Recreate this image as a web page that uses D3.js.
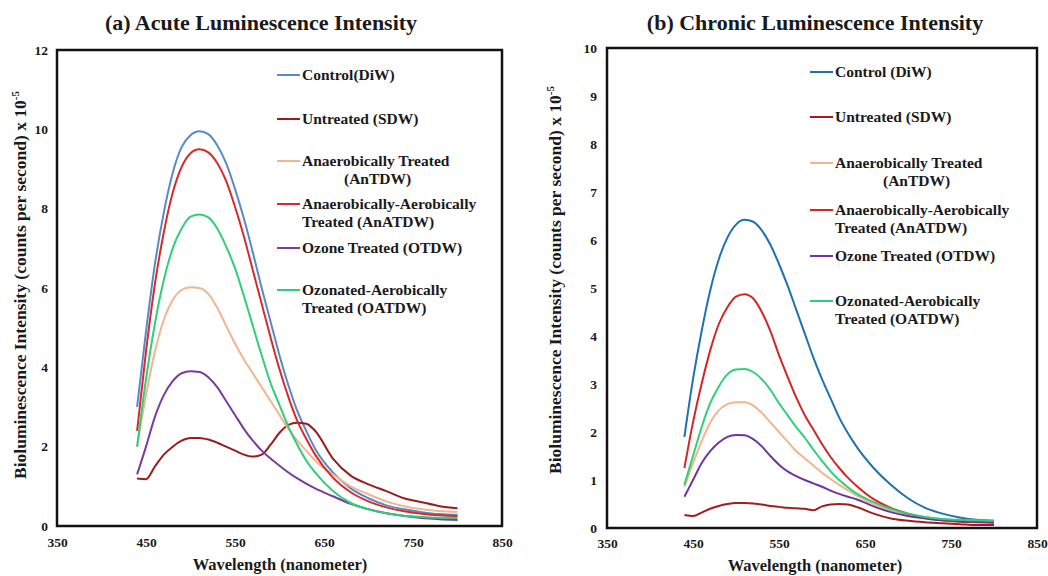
<!DOCTYPE html>
<html>
<head>
<meta charset="utf-8">
<script src="https://cdn.jsdelivr.net/npm/d3@7"></script>
<style>
  body { margin: 0; background: #fff; }
  text { font-family: "Liberation Serif", "DejaVu Serif", serif; font-weight: bold; fill: #1a1a1a; }
</style>
</head>
<body>
<div id="chart"></div>
<script>
// wavelength grid (nm) shared by every curve
const wavelengths = [440,450,460,470,480,490,500,510,520,530,540,550,560,570,580,590,600,610,620,630,640,660,680,700,720,740,760,780,800];

// (a) acute, x 10^-5 counts per second
const acuteDiW    = [3.0,4.9,6.6,7.9,8.9,9.55,9.85,9.95,9.88,9.6,9.15,8.5,7.75,6.9,6.0,5.15,4.3,3.55,2.9,2.4,1.95,1.35,0.95,0.7,0.52,0.42,0.35,0.3,0.28];
const acuteSDW    = [1.2,1.18,1.5,1.8,2.0,2.15,2.22,2.22,2.18,2.1,2.0,1.9,1.8,1.75,1.8,2.05,2.35,2.55,2.6,2.58,2.4,1.7,1.27,1.05,0.88,0.7,0.6,0.5,0.45];
const acuteAnTDW  = [2.0,3.3,4.4,5.2,5.7,5.95,6.02,6.0,5.85,5.5,5.05,4.6,4.2,3.85,3.5,3.15,2.8,2.45,2.15,1.9,1.65,1.3,1.0,0.8,0.62,0.5,0.42,0.38,0.35];
const acuteAnATDW = [2.4,4.4,6.1,7.4,8.4,9.05,9.4,9.5,9.42,9.15,8.7,8.05,7.3,6.45,5.6,4.75,3.95,3.25,2.65,2.2,1.8,1.22,0.85,0.62,0.47,0.37,0.31,0.27,0.25];
const acuteOTDW   = [1.3,2.0,2.75,3.3,3.65,3.85,3.9,3.88,3.75,3.5,3.15,2.8,2.45,2.15,1.9,1.7,1.52,1.35,1.2,1.07,0.95,0.75,0.56,0.42,0.32,0.25,0.2,0.17,0.15];
const acuteOATDW  = [2.0,3.7,5.1,6.2,7.0,7.5,7.8,7.85,7.78,7.5,7.05,6.5,5.8,5.05,4.3,3.6,3.05,2.5,2.05,1.65,1.35,0.88,0.58,0.42,0.32,0.26,0.23,0.21,0.2];

// (b) chronic
const chronicDiW    = [1.9,3.1,4.1,4.95,5.6,6.05,6.32,6.42,6.38,6.2,5.9,5.5,5.05,4.55,4.05,3.55,3.1,2.7,2.3,1.98,1.7,1.25,0.9,0.62,0.42,0.3,0.22,0.17,0.15];
const chronicSDW    = [0.27,0.25,0.32,0.4,0.46,0.5,0.52,0.52,0.51,0.49,0.46,0.44,0.42,0.41,0.4,0.37,0.45,0.49,0.5,0.49,0.44,0.3,0.2,0.15,0.12,0.1,0.08,0.06,0.06];
const chronicAnTDW  = [0.85,1.35,1.8,2.2,2.45,2.58,2.62,2.62,2.55,2.4,2.2,2.0,1.8,1.6,1.45,1.3,1.15,1.02,0.9,0.79,0.68,0.5,0.37,0.28,0.22,0.18,0.16,0.15,0.14];
const chronicAnATDW = [1.25,2.2,3.0,3.7,4.25,4.6,4.82,4.87,4.78,4.5,4.1,3.6,3.15,2.72,2.35,2.05,1.75,1.48,1.25,1.05,0.88,0.6,0.42,0.3,0.22,0.16,0.13,0.12,0.11];
const chronicOTDW   = [0.65,1.0,1.35,1.6,1.78,1.9,1.94,1.93,1.85,1.7,1.5,1.32,1.18,1.08,1.0,0.93,0.86,0.78,0.71,0.65,0.6,0.45,0.33,0.25,0.2,0.16,0.14,0.13,0.12];
const chronicOATDW  = [0.9,1.5,2.1,2.6,2.95,3.2,3.3,3.31,3.25,3.1,2.88,2.6,2.35,2.1,1.88,1.63,1.4,1.18,1.0,0.85,0.72,0.54,0.4,0.3,0.23,0.19,0.17,0.16,0.15];

const xTicks = [350,450,550,650,750,850];
const acuteYTicks = [0,2,4,6,8,10,12];
const chronicYTicks = [0,1,2,3,4,5,6,7,8,9,10];

// legend entries: each is one or two text lines
const acuteLegend = [
  ["Control(DiW)"],
  ["Untreated (SDW)"],
  ["Anaerobically Treated", "(AnTDW)"],
  ["Anaerobically-Aerobically", "Treated  (AnATDW)"],
  ["Ozone Treated  (OTDW)"],
  ["Ozonated-Aerobically", "Treated  (OATDW)"]
];
const chronicLegend = [
  ["Control (DiW)"],
  ["Untreated (SDW)"],
  ["Anaerobically Treated", "(AnTDW)"],
  ["Anaerobically-Aerobically", "Treated  (AnATDW)"],
  ["Ozone Treated (OTDW)"],
  ["Ozonated-Aerobically", "Treated  (OATDW)"]
];

const acuteColors   = ["#5a8ac6","#9b1c1c","#f2b58e","#d82a2a","#7a3b9f","#2ecf78"];
const chronicColors = ["#1f72b2","#a31d1d","#f2b58e","#d42626","#6e35a0","#2ecf78"];

const svg = d3.select("#chart").append("svg")
  .attr("width", 1048)
  .attr("height", 576);

function drawPanel(opt) {
  const x = d3.scaleLinear().domain([350, 850]).range([opt.left, opt.right]);
  const y = d3.scaleLinear().domain([0, opt.yMax]).range([opt.bottom, opt.top]);
  const g = svg.append("g");

  const line = d3.line()
    .x((d, i) => x(wavelengths[i]))
    .y(d => y(d))
    .curve(d3.curveMonotoneX);

  // draw in legend order so later ones sit on top (like the source)
  opt.series.forEach((s, i) => {
    g.append("path")
      .attr("d", line(s))
      .attr("fill", "none")
      .attr("stroke", opt.colors[i])
      .attr("stroke-width", 2);
  });

  // frame
  g.append("rect")
    .attr("x", opt.left).attr("y", opt.top)
    .attr("width", opt.right - opt.left)
    .attr("height", opt.bottom - opt.top)
    .attr("fill", "none")
    .attr("stroke", "#111")
    .attr("stroke-width", 2.5);

  // tick labels only, no tick marks
  const xa = g.append("g")
    .attr("transform", `translate(0,${opt.bottom})`)
    .call(d3.axisBottom(x).tickValues(xTicks).tickSize(0).tickPadding(opt.xPad));
  xa.select(".domain").remove();
  xa.selectAll("text").attr("font-size", 13.5).attr("font-family", null).attr("fill", null);

  const ya = g.append("g")
    .attr("transform", `translate(${opt.left},0)`)
    .call(d3.axisLeft(y).tickValues(opt.yTicks).tickSize(0).tickPadding(opt.yPad));
  ya.select(".domain").remove();
  ya.selectAll("text").attr("font-size", 13.5).attr("font-family", null).attr("fill", null);

  // title
  g.append("text")
    .attr("x", opt.titleX).attr("y", 30)
    .attr("text-anchor", "middle")
    .attr("font-size", 22)
    .text(opt.title);

  // x label
  g.append("text")
    .attr("x", opt.xLabelX).attr("y", opt.xLabelY)
    .attr("text-anchor", "middle")
    .attr("font-size", 16.5)
    .text("Wavelength (nanometer)");

  // y label with superscript
  const yl = g.append("text")
    .attr("transform", `translate(${opt.yLabelX},${opt.yLabelY}) rotate(-90)`)
    .attr("text-anchor", "middle")
    .attr("font-size", 17.5);
  yl.append("tspan").text("Bioluminescence Intensity (counts per second) x 10");
  yl.append("tspan").attr("dy", -7).attr("font-size", 11).text("-5");

  // legend
  opt.legend.forEach((lines, i) => {
    const ly = opt.legendY[i];
    g.append("line")
      .attr("x1", opt.legendX).attr("x2", opt.legendX + 23)
      .attr("y1", ly - 5).attr("y2", ly - 5)
      .attr("stroke", opt.colors[i])
      .attr("stroke-width", 2);
    lines.forEach((t, k) => {
      const indent = (k === 1 && lines[1].startsWith("(")) ? opt.indent : 0;
      g.append("text")
        .attr("x", opt.legendX + 25 + indent)
        .attr("y", ly + k * 18)
        .attr("font-size", 15.5)
        .text(t);
    });
  });
}

drawPanel({
  left: 57, right: 502, top: 50, bottom: 526, yMax: 12,
  yTicks: acuteYTicks, xPad: 11, yPad: 9,
  series: [acuteDiW, acuteSDW, acuteAnTDW, acuteAnATDW, acuteOTDW, acuteOATDW],
  colors: acuteColors,
  title: "(a)  Acute Luminescence Intensity", titleX: 261,
  xLabelX: 280, xLabelY: 570,
  yLabelX: 26, yLabelY: 285,
  legend: acuteLegend, legendX: 277,
  legendY: [80, 124, 166, 209, 253, 295], indent: 42
});

drawPanel({
  left: 607, right: 1037, top: 48, bottom: 528, yMax: 10,
  yTicks: chronicYTicks, xPad: 10, yPad: 10,
  series: [chronicDiW, chronicSDW, chronicAnTDW, chronicAnATDW, chronicOTDW, chronicOATDW],
  colors: chronicColors,
  title: "(b)  Chronic Luminescence Intensity", titleX: 815,
  xLabelX: 815, xLabelY: 571,
  yLabelX: 561, yLabelY: 280,
  legend: chronicLegend, legendX: 810,
  legendY: [77, 122, 168, 215, 261, 306], indent: 48
});
</script>
</body>
</html>
